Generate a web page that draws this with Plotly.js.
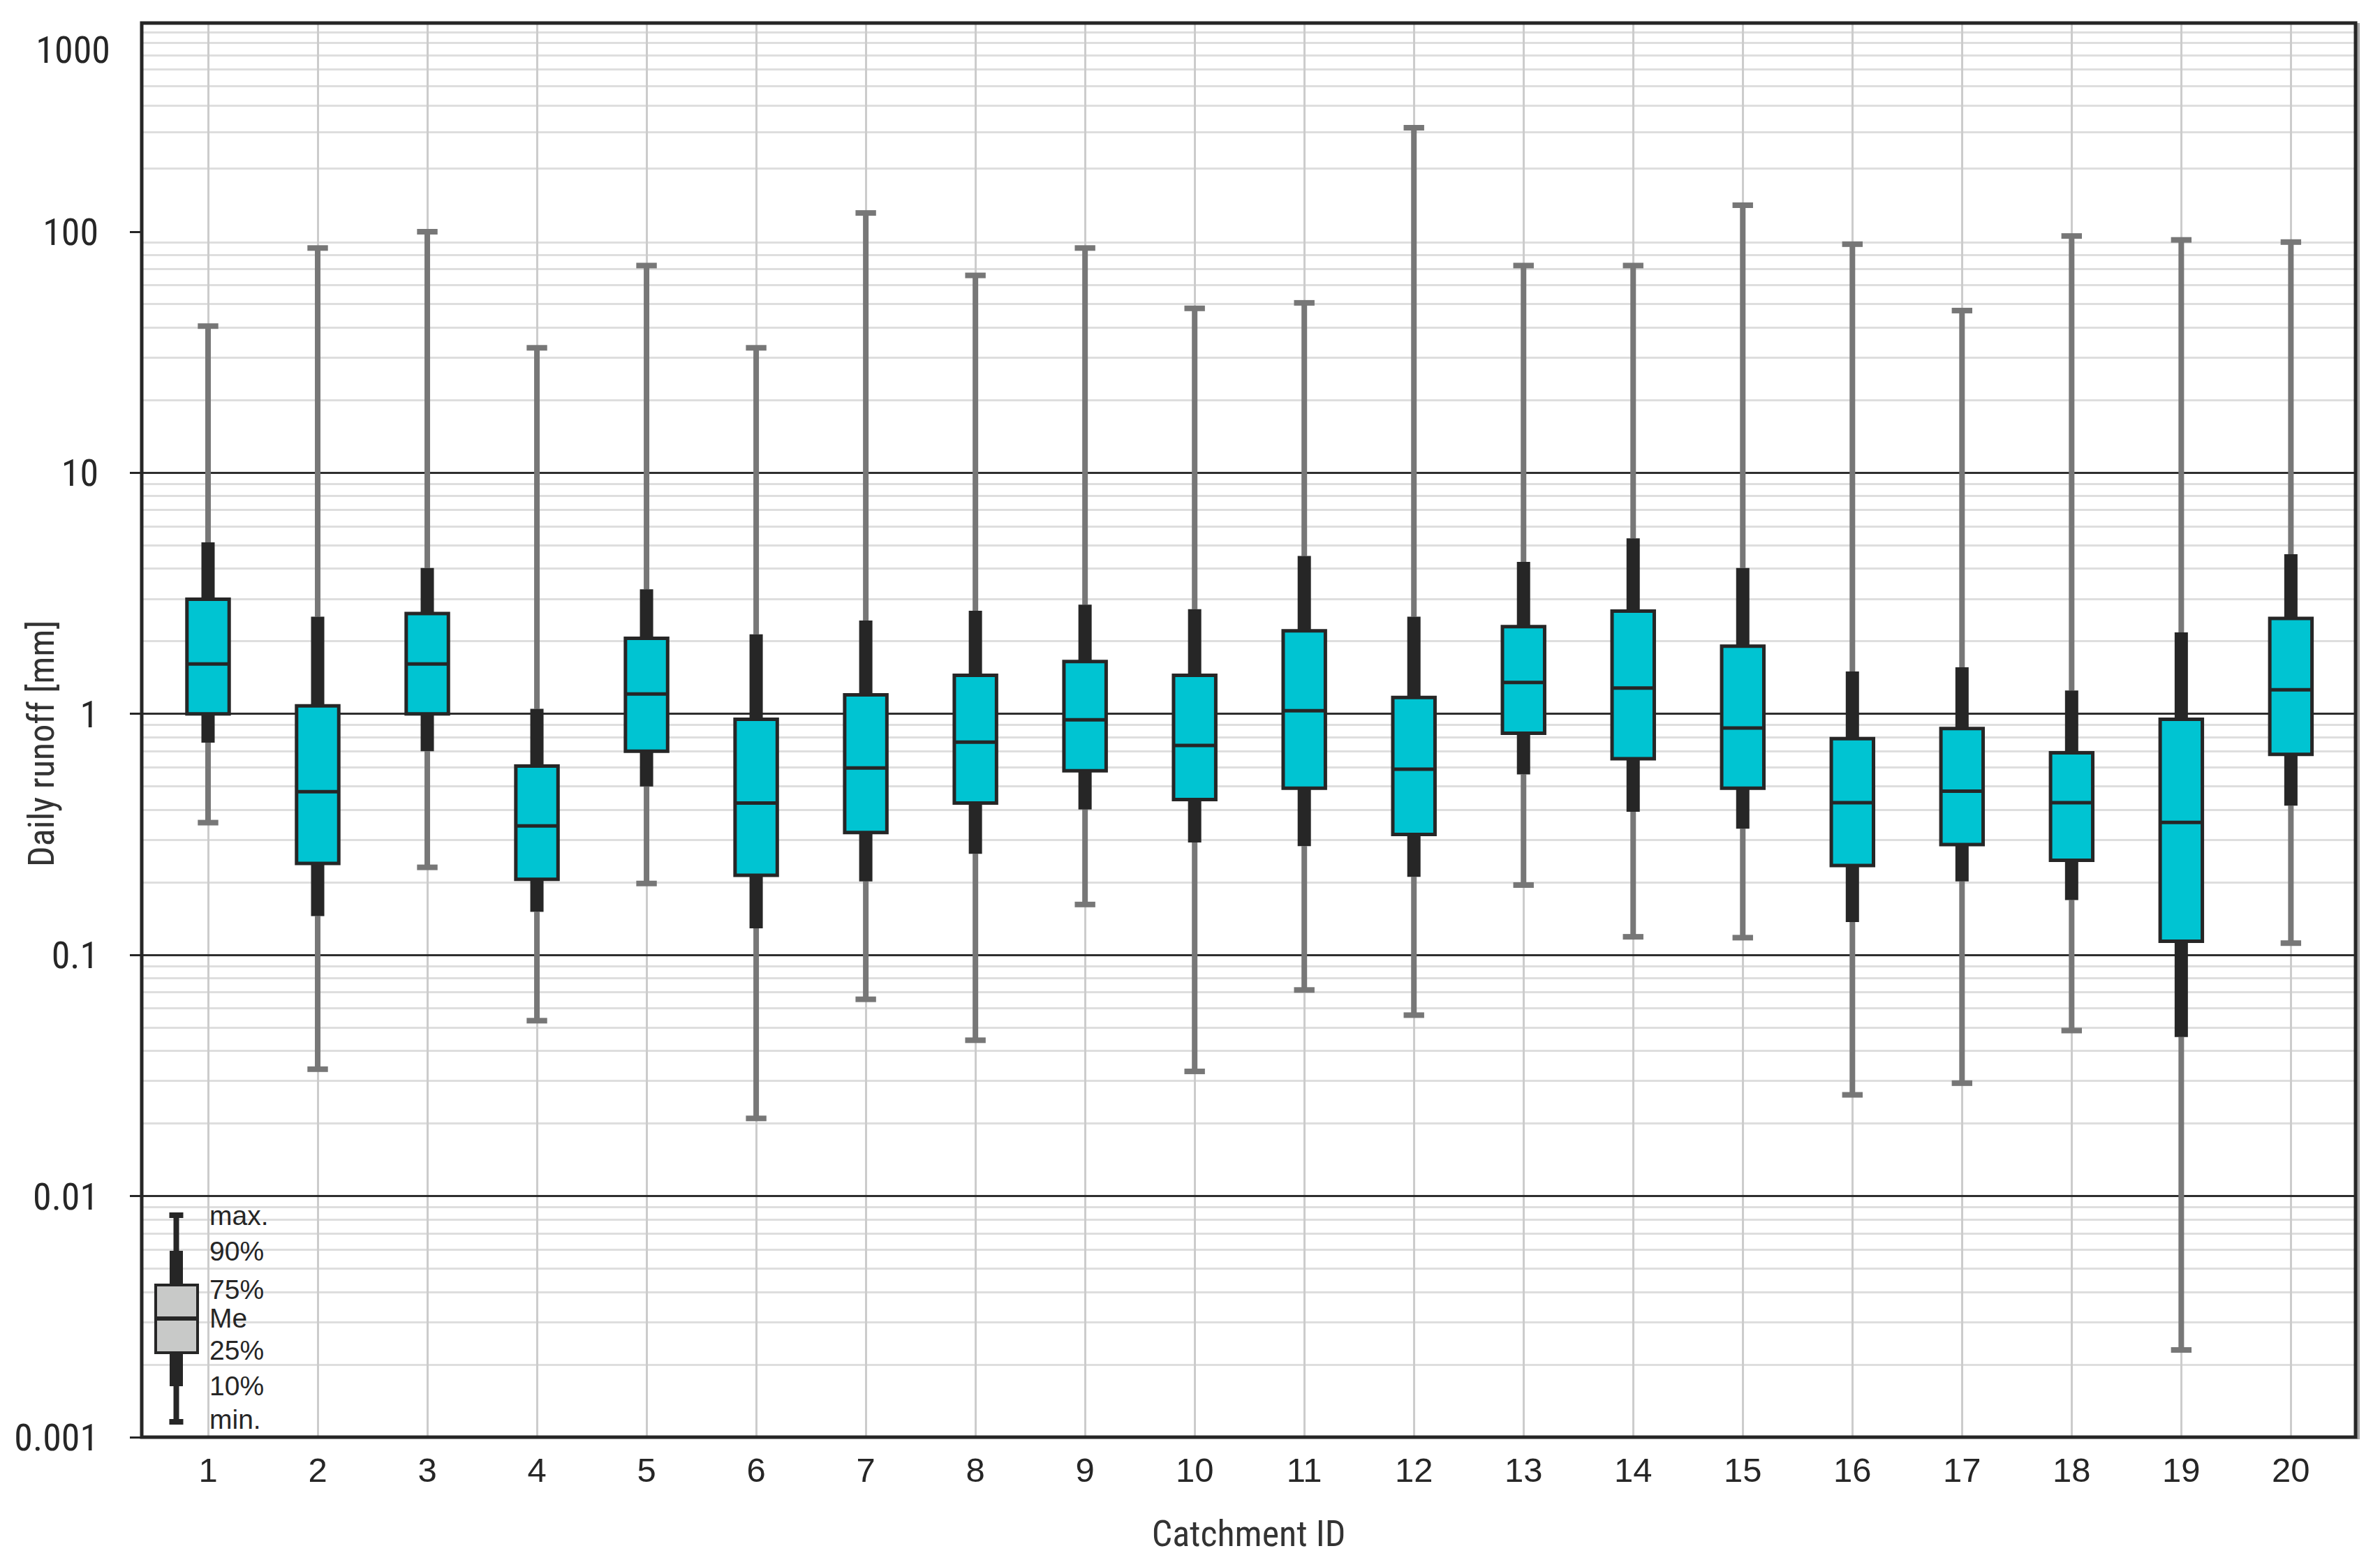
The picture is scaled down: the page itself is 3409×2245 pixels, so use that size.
<!DOCTYPE html>
<html>
<head>
<meta charset="utf-8">
<script src="https://cdn.plot.ly/plotly-3.0.1.min.js"></script>
<style>
html,body{margin:0;padding:0;background:#fff;}
.ytick text, .y2tick text, .xtitle, .annotation-text { font-stretch: 75% !important; }
</style>
</head>
<body>
<div id="chart" style="width:3409px;height:2245px;"></div>
<script>
// ---- data ----
var catchments = [1,2,3,4,5,6,7,8,9,10,11,12,13,14,15,16,17,18,19,20];
var tickLabels = ['1','2','3','4','5','6','7','8','9','10','11','12','13','14','15','16','17','18','19','20'];
var maxV = [40.6, 85.6, 100, 33.0, 72.4, 33.0, 123, 65.9, 85.6, 48.1, 50.7, 315, 72.4, 72.4, 134, 88.8, 47.1, 96, 92.5, 90.6];
var p90  = [5.15, 2.53, 4.03, 1.05, 3.29, 2.14, 2.44, 2.68, 2.84, 2.72, 4.52, 2.53, 4.27, 5.35, 4.03, 1.50, 1.56, 1.25, 2.18, 4.60];
var q3   = [2.99, 1.08, 2.61, 0.608, 2.06, 0.95, 1.20, 1.445, 1.65, 1.445, 2.21, 1.17, 2.30, 2.67, 1.91, 0.79, 0.87, 0.69, 0.95, 2.49];
var med  = [1.61, 0.476, 1.61, 0.343, 1.21, 0.427, 0.597, 0.764, 0.945, 0.74, 1.03, 0.59, 1.35, 1.28, 0.874, 0.428, 0.478, 0.428, 0.355, 1.26];
var q1   = [1.0, 0.240, 1.0, 0.206, 0.70, 0.214, 0.322, 0.427, 0.581, 0.441, 0.492, 0.316, 0.832, 0.652, 0.492, 0.235, 0.287, 0.247, 0.114, 0.679];
var p10  = [0.76, 0.145, 0.70, 0.151, 0.50, 0.129, 0.202, 0.263, 0.401, 0.293, 0.283, 0.211, 0.561, 0.393, 0.334, 0.137, 0.202, 0.169, 0.0457, 0.416];
var minV = [0.354, 0.0336, 0.231, 0.0534, 0.198, 0.021, 0.0655, 0.0443, 0.162, 0.0329, 0.0716, 0.0563, 0.195, 0.119, 0.118, 0.0263, 0.0294, 0.0486, 0.0023, 0.112];

var yTickVals = [0.001, 0.01, 0.1, 1, 10, 100];
var yTickText = ['0.001', '0.01', '0.1', '1', '10', '100'];
var yTopTickVals = [1000];
var yTopTickText = ['1000'];
var legendLabels = ['max.', '90%', '75%', 'Me', '25%', '10%', 'min.'];

// ---- styles ----
var DARK = '#262626';
var GREY = '#777777';
var CYAN = '#00c4d2';
var REG = '"Liberation Sans", Arial, sans-serif';
var NARROW = 'Roboto, "DejaVu Sans Condensed", sans-serif';

function segs(a, b) {
  var xs = [], ys = [];
  for (var i = 0; i < catchments.length; i++) {
    xs.push(catchments[i], catchments[i], null);
    ys.push(a[i], b[i], null);
  }
  return {x: xs, y: ys};
}
var upThin = segs(p90, maxV), loThin = segs(p10, minV);
var upThick = segs(q3, p90), loThick = segs(q1, p10);
var thinX = upThin.x.concat(loThin.x), thinY = upThin.y.concat(loThin.y);
var thickX = upThick.x.concat(loThick.x), thickY = upThick.y.concat(loThick.y);
var capX = catchments.concat(catchments), capY = maxV.concat(minV);

var traces = [];
['y', 'y2'].forEach(function (ya) {
  traces.push({type: 'scatter', mode: 'lines', x: thinX, y: thinY, yaxis: ya, xaxis: 'x',
    line: {color: GREY, width: 8}, hoverinfo: 'skip', showlegend: false});
  traces.push({type: 'scatter', mode: 'markers', x: capX, y: capY, yaxis: ya, xaxis: 'x',
    marker: {symbol: 'line-ew', size: 21, color: GREY, line: {color: GREY, width: 8}},
    hoverinfo: 'skip', showlegend: false});
});
traces.push({type: 'scatter', mode: 'lines', x: thickX, y: thickY, xaxis: 'x', yaxis: 'y',
  line: {color: DARK, width: 19}, hoverinfo: 'skip', showlegend: false});
traces.push({type: 'box', x: catchments, q1: q1, median: med, q3: q3,
  lowerfence: q1, upperfence: q3, xaxis: 'x', yaxis: 'y',
  width: 0.385, fillcolor: CYAN, line: {color: DARK, width: 5},
  whiskerwidth: 0, boxpoints: false, showlegend: false});

var minorLow = [], minorTop = [];
for (var d = -3; d <= 1; d++) for (var k = 2; k <= 9; k++) minorLow.push(k * Math.pow(10, d));
for (var k2 = 2; k2 <= 9; k2++) minorTop.push(k2 * 100);

var SPLIT = 1727 / 2026;

function px(x) { return (x - 203) / 3171; }
function py(y) { return (2059 - y) / 2026; }
var lx = 252.5;
var shapes = [
  {type: 'line', xref: 'paper', yref: 'paper', x0: px(lx), x1: px(lx), y0: py(1741), y1: py(2037), line: {color: DARK, width: 8}},
  {type: 'line', xref: 'paper', yref: 'paper', x0: px(lx), x1: px(lx), y0: py(1792), y1: py(1840), line: {color: DARK, width: 19}},
  {type: 'line', xref: 'paper', yref: 'paper', x0: px(lx), x1: px(lx), y0: py(1939), y1: py(1986), line: {color: DARK, width: 19}},
  {type: 'line', xref: 'paper', yref: 'paper', x0: px(lx - 10), x1: px(lx + 10), y0: py(1741), y1: py(1741), line: {color: DARK, width: 8}},
  {type: 'line', xref: 'paper', yref: 'paper', x0: px(lx - 10), x1: px(lx + 10), y0: py(2037), y1: py(2037), line: {color: DARK, width: 8}},
  {type: 'rect', xref: 'paper', yref: 'paper', x0: px(223), x1: px(283), y0: py(1841), y1: py(1938), fillcolor: '#c8c9c8', line: {color: DARK, width: 4}},
  {type: 'line', xref: 'paper', yref: 'paper', x0: px(223), x1: px(283), y0: py(1889), y1: py(1889), line: {color: DARK, width: 6}},
  {type: 'line', xref: 'paper', yref: 'paper', x0: px(3378), x1: px(3378), y0: py(2062), y1: py(33), line: {color: '#a8a8a8', width: 4}, layer: 'above'},
  {type: 'rect', xref: 'paper', yref: 'paper', x0: 0, x1: 1, y0: 0, y1: 1, line: {color: DARK, width: 5}, layer: 'above'}
];
var legY = [1741, 1792, 1847, 1888, 1934, 1985, 2033];
var annotations = legendLabels.map(function (t, i) {
  return {text: t, xref: 'paper', yref: 'paper', x: px(298), y: py(legY[i]), xanchor: 'left', yanchor: 'middle',
    showarrow: false, font: {family: REG, size: 39, color: DARK}};
});
annotations.push({text: 'Daily runoff [mm]', xref: 'paper', yref: 'paper', x: px(59), y: py(1065),
  xanchor: 'center', yanchor: 'middle', textangle: -90, showarrow: false,
  font: {family: NARROW, size: 52, color: '#333333'}});

var layout = {
  width: 3409, height: 2245,
  margin: {l: 203, r: 35, t: 33, b: 186, pad: 0},
  paper_bgcolor: '#ffffff', plot_bgcolor: '#ffffff',
  showlegend: false,
  font: {family: REG, color: DARK},
  xaxis: {
    range: [0.395, 20.59], tickmode: 'array', tickvals: catchments, ticktext: tickLabels,
    showgrid: true, gridcolor: '#cccccc', gridwidth: 3, zeroline: false, ticks: '',
    showline: false, tickfont: {family: REG, size: 49, color: DARK}, ticklabelstandoff: 14,
    title: {text: 'Catchment ID', font: {family: NARROW, size: 52, color: '#333333'}, standoff: 46},
    anchor: 'y'
  },
  yaxis: {
    type: 'log', domain: [0, SPLIT], range: [-3, 2], anchor: 'x',
    tickmode: 'array', tickvals: yTickVals, ticktext: yTickText,
    showgrid: true, gridcolor: '#2e2e2e', gridwidth: 3, zeroline: false,
    ticks: 'outside', ticklen: 16, tickwidth: 3, tickcolor: DARK, showline: false,
    tickfont: {family: NARROW, size: 54, color: DARK}, ticklabelstandoff: 34,
    minor: {tickmode: 'array', tickvals: minorLow, showgrid: true, gridcolor: '#dedede', gridwidth: 3, ticks: ''}
  },
  yaxis2: {
    type: 'log', domain: [SPLIT, 1], range: [2, 3], anchor: 'x',
    tickmode: 'array', tickvals: yTopTickVals, ticktext: yTopTickText, ticklabelposition: 'outside bottom',
    showgrid: true, gridcolor: '#2e2e2e', gridwidth: 3, zeroline: false,
    ticks: '', showline: false,
    tickfont: {family: NARROW, size: 54, color: DARK}, ticklabelstandoff: 44,
    minor: {tickmode: 'array', tickvals: minorTop, showgrid: true, gridcolor: '#dedede', gridwidth: 3, ticks: ''}
  },
  shapes: shapes,
  annotations: annotations
};

Plotly.newPlot('chart', traces, layout, {staticPlot: true, displayModeBar: false});
</script>
</body>
</html>
